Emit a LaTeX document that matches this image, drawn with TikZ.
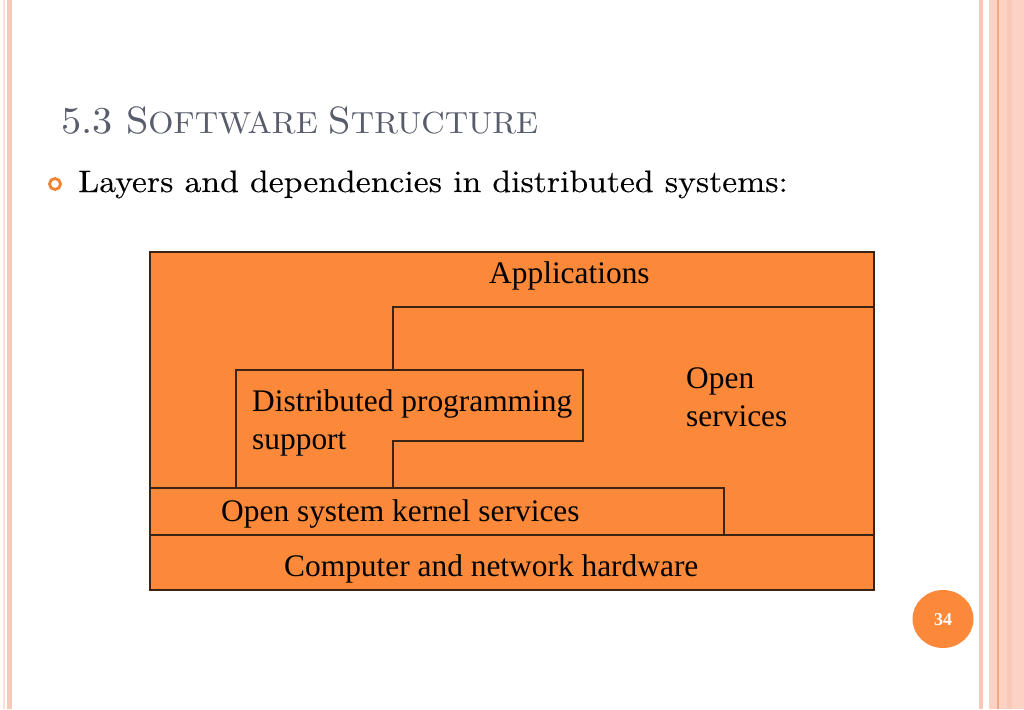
\documentclass[tikz,border=0pt]{standalone}
\usepackage{fontspec}
\newfontfamily\timesf{Liberation Serif}
\newfontfamily\widef{lmroman10-regular}[Extension=.otf,FakeStretch=1.086,FakeBold=0.2]
\newfontfamily\titlef{lmroman10-regular}[Extension=.otf,FakeStretch=1.06]
\definecolor{boxorange}{RGB}{252,137,58}
\definecolor{titlegray}{RGB}{88,93,108}
\definecolor{bulletorange}{RGB}{240,130,50}
\definecolor{stripe}{RGB}{248,200,184}
\definecolor{stripedark}{RGB}{242,168,136}
\definecolor{stripelight}{RGB}{252,210,196}
\definecolor{edge}{RGB}{60,35,20}
\newcommand{\bigc}[1]{{\fontsize{38}{44}\selectfont #1}}
\newcommand{\smc}[1]{{\fontsize{30.5}{44}\selectfont #1}}
\begin{document}
\begin{tikzpicture}[x=1pt,y=-1pt,
  layer/.style={draw=edge,line width=1.3pt},
  boxtext/.style={font=\timesf\fontsize{31.4}{37.5}\selectfont,inner sep=0pt,anchor=base west,align=left},
]
\useasboundingbox (0,0) rectangle (1024,709);
\fill[white] (0,0) rectangle (1024,709);
% left border stripes
\fill[stripe!60] (3,0) rectangle (5,709);
\fill[stripe] (7,0) rectangle (12,709);
% right border stripes
\fill[stripe] (979,0) rectangle (983,709);
\fill[stripelight] (989,0) rectangle (1024,709);
\fill[stripedark] (997,0) rectangle (999,709);
\fill[stripe] (1007,0) rectangle (1012,709);
% title
\node[font=\titlef,text=titlegray,anchor=base west,inner sep=0pt] (title) at (61,133) {\bigc{5.3 S}\smc{OFTWARE\ }\bigc{S}\smc{TRUCTURE}};
% bullet
\draw[bulletorange,line width=2.8pt] (55,184) circle (5.5);
\node[font=\widef\fontsize{31}{36}\selectfont,anchor=base west,inner sep=0pt] (sub) at (78,192) {Layers and dependencies in distributed systems:};
% diagram
\coordinate (tl) at (150,252);
\coordinate (br) at (874,590);
\fill[boxorange] (tl) rectangle (br);
\draw[layer] (393,370) -- (393,307) -- (874,307);
\draw[layer] (236,488) -- (236,370) -- (583,370) -- (583,441) -- (393,441) -- (393,488);
\draw[layer] (150,488) -- (724,488) -- (724,535);
\draw[layer] (150,535) -- (874,535);
\draw[layer] (tl) rectangle (br);
\node[boxtext] (app) at (489,283) {Applications};
\node[boxtext] (dps) at (252,449) {Distributed programming\\support};
\node[boxtext] (os) at (686,426) {Open\\services};
\node[boxtext] (kern) at (221,521) {Open system kernel services};
\node[boxtext] (hw) at (284,576) {Computer and network hardware};
% page number
\fill[boxorange] (943,619) ellipse (30.5 and 29);
\node[font=\timesf\bfseries\fontsize{18}{20}\selectfont,text=white] (pg) at (943,620) {34};
\end{tikzpicture}
\end{document}
